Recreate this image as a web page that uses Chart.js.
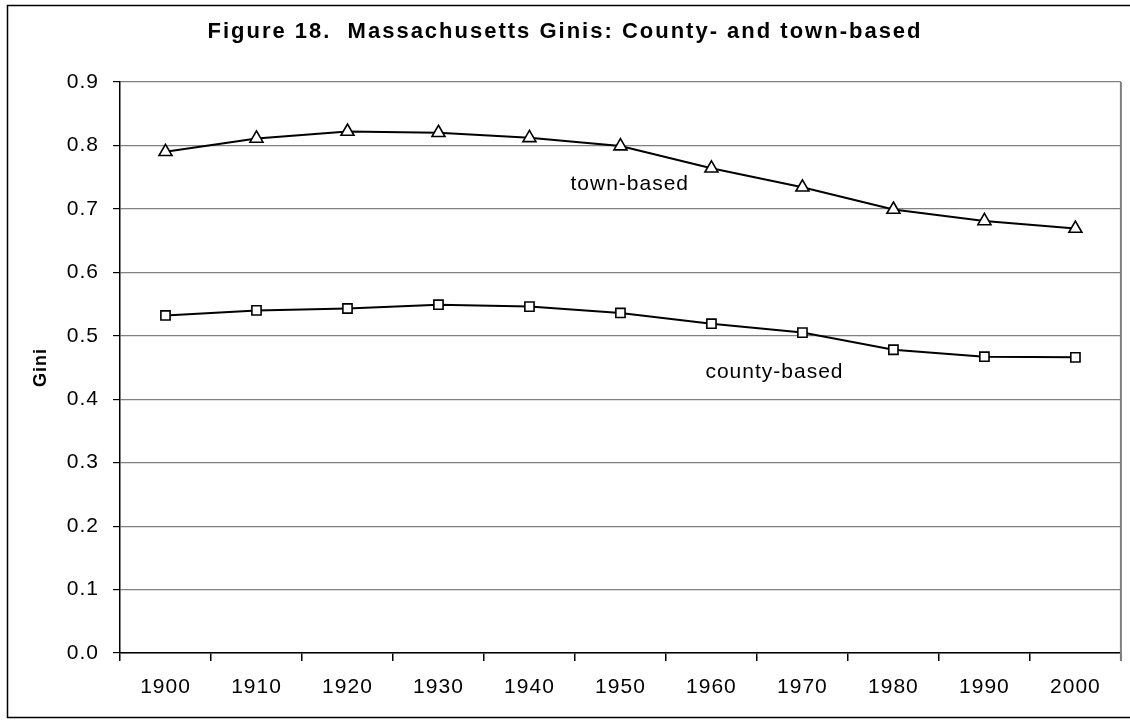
<!DOCTYPE html>
<html>
<head>
<meta charset="utf-8">
<script src="https://cdn.jsdelivr.net/npm/chart.js@4.4.1/dist/chart.umd.min.js"></script>
<style>
html,body{margin:0;padding:0;background:#fff;}
canvas{display:block;}
</style>
</head>
<body>
<canvas id="c" width="1130" height="725"></canvas>
<script>
const years = ['1900','1910','1920','1930','1940','1950','1960','1970','1980','1990','2000'];
const townBased = [0.790, 0.811, 0.822, 0.820, 0.812, 0.799, 0.764, 0.734, 0.699, 0.681, 0.669];
const countyBased = [0.532, 0.540, 0.543, 0.549, 0.546, 0.536, 0.519, 0.505, 0.478, 0.467, 0.466];
const yTicks = [0.0, 0.1, 0.2, 0.3, 0.4, 0.5, 0.6, 0.7, 0.8, 0.9];
const titleText = 'Figure 18.  Massachusetts Ginis: County- and town-based';
const seriesLabels = ['town-based', 'county-based'];
const FONT = '"Liberation Sans", Arial, sans-serif';

const decor = {
  id: 'decor',
  beforeDraw(chart) {
    const ctx = chart.ctx;
    ctx.fillStyle = '#fff';
    ctx.fillRect(0, 0, chart.width, chart.height);
    ctx.save();
    ctx.strokeStyle = '#000';
    ctx.lineWidth = 1.5;
    ctx.strokeRect(7.5, 5.5, chart.width + 20, 712);
    ctx.restore();
    try { ctx.letterSpacing = '1px'; } catch (e) {}
  },
  afterDatasetsDraw(chart) {
    const ctx = chart.ctx;
    const a = chart.chartArea;
    const xs = chart.scales.x, ys = chart.scales.y;
    ctx.save();
    ctx.strokeStyle = '#808080';
    ctx.lineWidth = 2;
    ctx.beginPath();
    ctx.moveTo(a.right, a.top);
    ctx.lineTo(a.right, a.bottom + 8);
    ctx.stroke();
    ctx.fillStyle = '#000';
    ctx.font = 'bold 22px ' + FONT;
    ctx.textAlign = 'center';
    ctx.textBaseline = 'middle';
    try { ctx.letterSpacing = '2px'; } catch (e) {}
    ctx.fillText(titleText, chart.width / 2, 32);
    ctx.font = '21px ' + FONT;
    ctx.textAlign = 'left';
    try { ctx.letterSpacing = '1px'; } catch (e) {}
    ctx.fillText(seriesLabels[0], xs.getPixelForValue(5) - 50, ys.getPixelForValue(0.7395));
    ctx.fillText(seriesLabels[1], xs.getPixelForValue(6) - 6, ys.getPixelForValue(0.442));
    ctx.restore();
  }
};

new Chart(document.getElementById('c'), {
  type: 'line',
  data: {
    labels: years,
    datasets: [
      {
        label: seriesLabels[0],
        data: townBased,
        borderColor: '#000',
        borderWidth: 2,
        pointStyle: 'triangle',
        pointRadius: 7.5,
        pointBorderWidth: 1.6,
        pointBackgroundColor: '#fff',
        pointBorderColor: '#000',
        tension: 0
      },
      {
        label: seriesLabels[1],
        data: countyBased,
        borderColor: '#000',
        borderWidth: 2,
        pointStyle: 'rect',
        pointRadius: 6.5,
        pointBorderWidth: 1.6,
        pointBackgroundColor: '#fff',
        pointBorderColor: '#000',
        tension: 0
      }
    ]
  },
  options: {
    responsive: false,
    animation: false,
    devicePixelRatio: 1,
    layout: { padding: { top: 82, right: 7, bottom: 0, left: 0 } },
    plugins: {
      legend: { display: false },
      title: { display: false },
      tooltip: { enabled: false }
    },
    scales: {
      x: {
        offset: true,
        grid: {
          offset: true,
          drawOnChartArea: false,
          drawTicks: true,
          tickLength: 8,
          tickColor: '#000',
          lineWidth: 1.5
        },
        border: { color: '#000', width: 1.5 },
        ticks: {
          color: '#000',
          font: { family: FONT, size: 21 },
          padding: 14,
          maxRotation: 0,
          autoSkip: false
        },
        afterFit(scale) { scale.height = 72; }
      },
      y: {
        min: 0,
        max: 0.9,
        afterBuildTicks(scale) { scale.ticks = yTicks.map(v => ({ value: v })); },
        grid: {
          color: '#808080',
          lineWidth: 1.2,
          drawTicks: true,
          tickLength: 7,
          tickColor: '#000'
        },
        border: { color: '#000', width: 1.5 },
        ticks: {
          color: '#000',
          font: { family: FONT, size: 21 },
          padding: 14,
          callback: (v) => Number(v).toFixed(1)
        },
        title: {
          display: true,
          text: 'Gini',
          color: '#000',
          font: { family: FONT, size: 18, weight: 'bold' },
          padding: { top: 30, bottom: 0 }
        },
        afterFit(scale) { scale.width = 120; }
      }
    }
  },
  plugins: [decor]
});
</script>
</body>
</html>
